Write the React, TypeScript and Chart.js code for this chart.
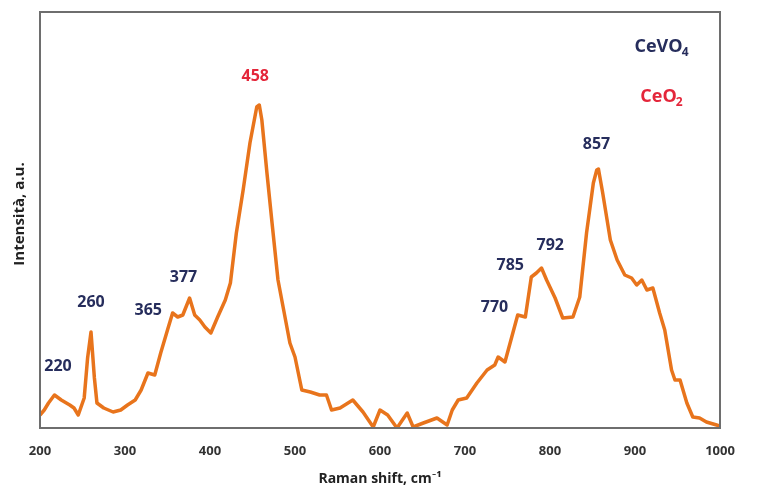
import React, { useEffect, useRef } from 'react';
import { Chart, registerables } from 'chart.js';

Chart.register(...registerables);

// Raman spectrum (cm⁻¹) and intensity, arbitrary units
const ramanShift = [
  200, 205, 210, 217, 225, 235, 240, 245, 252, 256, 260, 264, 267, 275, 286, 295,
  303, 312, 319, 327, 335, 342, 350, 356, 362, 368, 376, 382, 388, 394, 401, 409,
  418, 424, 431, 439, 447, 455, 458, 461, 467, 473, 480, 486, 494, 500, 508, 518,
  529, 537, 543, 553, 568, 580, 592, 600, 609, 620, 632, 639, 651, 667, 679, 685,
  692, 702, 714, 726, 735, 739, 747, 755, 762, 771, 778, 784, 790, 796, 806, 815,
  827, 835, 843, 851, 855, 857, 862, 871, 879, 888, 896, 902, 908, 914, 921, 929,
  935, 943, 947, 953, 961, 968, 976, 984, 996, 1000,
];
const intensity = [
  13, 18, 25, 33, 28, 23, 20, 13, 30, 70, 96, 50, 25, 20, 16, 18,
  23, 28, 38, 55, 53, 75, 98, 115, 111, 113, 130, 113, 108, 101, 95, 111,
  128, 145, 195, 238, 285, 321, 323, 308, 255, 205, 148, 121, 85, 71, 38, 36,
  33, 33, 18, 20, 28, 16, 1, 18, 13, 0, 15, 1, 5, 10, 3, 18,
  28, 30, 45, 58, 63, 71, 66, 91, 113, 111, 151, 155, 160, 148, 130, 110,
  111, 131, 195, 245, 258, 259, 235, 188, 168, 153, 150, 143, 148, 138, 140, 115,
  98, 58, 48, 48, 25, 11, 10, 6, 3, 2,
];

const xTicks = [200, 300, 400, 500, 600, 700, 800, 900, 1000];

// Assigned bands and the phase each belongs to
const peakShifts = [220, 260, 365, 377, 458, 770, 785, 792, 857];
const peakLabels = ['220', '260', '365', '377', '458', '770', '785', '792', '857'];
const peakPhase = ['CeVO4', 'CeVO4', 'CeVO4', 'CeVO4', 'CeO2', 'CeVO4', 'CeVO4', 'CeVO4', 'CeVO4'];

const phaseKeys = ['CeVO4', 'CeO2'];
const phaseBase = ['CeVO', 'CeO'];
const phaseSub = ['4', '2'];

const PHASE_COLOR: Record<string, string> = { CeVO4: '#262d5c', CeO2: '#e4263a' };
const LINE_COLOR = '#e8741c';
const FRAME_COLOR = '#6e6e6e';
const FONT = '"Open Sans", Lato, sans-serif';

// label offsets (px) from the curve point at each band
const LABEL_OFFSETS: [number, number][] = [
  [1, -30], [0, -30], [-32, -6], [-7, -23], [-4, -29], [-30, -9], [-27, -7], [7, -27], [-2, -25],
];

function curveAt(x: number): number {
  for (let i = 1; i < ramanShift.length; i++) {
    if (ramanShift[i] >= x) {
      const x0 = ramanShift[i - 1];
      const x1 = ramanShift[i];
      const t = (x - x0) / (x1 - x0);
      return intensity[i - 1] + t * (intensity[i] - intensity[i - 1]);
    }
  }
  return intensity[intensity.length - 1];
}

const annotations = {
  id: 'ramanAnnotations',
  afterDraw(chart: any) {
    const { ctx, chartArea: a, scales } = chart;
    const xs = scales.x;
    const ys = scales.y;
    ctx.save();

    // plot frame
    ctx.strokeStyle = FRAME_COLOR;
    ctx.lineWidth = 2;
    ctx.strokeRect(a.left, a.top, a.right - a.left, a.bottom - a.top);

    // band labels
    ctx.font = `bold 16px ${FONT}`;
    ctx.textAlign = 'center';
    ctx.textBaseline = 'middle';
    peakShifts.forEach((p, i) => {
      const px = xs.getPixelForValue(p) + LABEL_OFFSETS[i][0];
      const py = ys.getPixelForValue(curveAt(p)) + LABEL_OFFSETS[i][1];
      ctx.fillStyle = PHASE_COLOR[peakPhase[i]];
      ctx.fillText(peakLabels[i], px, py);
    });

    // phase key, top right
    const keyX = a.right - 58;
    phaseKeys.forEach((k, i) => {
      const y = a.top + 35 + i * 50;
      ctx.fillStyle = PHASE_COLOR[k];
      ctx.font = `bold 18px ${FONT}`;
      const baseW = ctx.measureText(phaseBase[i]).width;
      ctx.font = `bold 12px ${FONT}`;
      const subW = ctx.measureText(phaseSub[i]).width;
      const start = keyX - (baseW + subW) / 2;
      ctx.textAlign = 'left';
      ctx.font = `bold 18px ${FONT}`;
      ctx.fillText(phaseBase[i], start, y);
      ctx.font = `bold 12px ${FONT}`;
      ctx.fillText(phaseSub[i], start + baseW - 1, y + 6);
    });

    // y-axis title
    ctx.translate(20, (a.top + a.bottom) / 2 - 6);
    ctx.rotate(-Math.PI / 2);
    ctx.textAlign = 'center';
    ctx.fillStyle = '#222';
    ctx.font = `bold 15px ${FONT}`;
    ctx.fillText('Intensità, a.u.', 0, 0);
    ctx.restore();
  },
};

export default function App() {
  const canvasRef = useRef<HTMLCanvasElement | null>(null);

  useEffect(() => {
    const canvas = canvasRef.current;
    if (!canvas) return;
    const chart = new Chart(canvas, {
      type: 'line',
      data: {
        datasets: [
          {
            data: ramanShift.map((x, i) => ({ x, y: intensity[i] })),
            borderColor: LINE_COLOR,
            borderWidth: 3.5,
            pointRadius: 0,
            tension: 0,
            fill: false,
            borderJoinStyle: 'round',
          },
        ],
      },
      options: {
        animation: false,
        responsive: false,
        maintainAspectRatio: false,
        layout: { padding: { left: 40, right: 48, top: 12, bottom: 0 } },
        plugins: { legend: { display: false }, tooltip: { enabled: false } },
        scales: {
          x: {
            type: 'linear',
            min: 200,
            max: 1000,
            afterBuildTicks: (s: any) => {
              s.ticks = xTicks.map((v) => ({ value: v }));
            },
            afterFit: (s: any) => {
              s.height = 65;
            },
            grid: { display: false, drawTicks: false },
            border: { display: false },
            ticks: {
              padding: 15,
              maxRotation: 0,
              color: '#333',
              font: { family: FONT, weight: 'bold', size: 13 },
              callback: (v: any) => String(v),
            },
            title: {
              display: true,
              text: 'Raman shift, cm⁻¹',
              color: '#222',
              font: { family: FONT, weight: 'bold', size: 14 },
              padding: { top: 4, bottom: 6 },
            },
          },
          y: { display: false, min: 0, max: 416 },
        },
      },
      plugins: [annotations],
    } as any);
    return () => chart.destroy();
  }, []);

  return (
    <div style={{ position: 'fixed', left: 0, top: 0, width: 768, height: 493, background: '#fff' }}>
      <canvas ref={canvasRef} width={768} height={493} />
    </div>
  );
}
